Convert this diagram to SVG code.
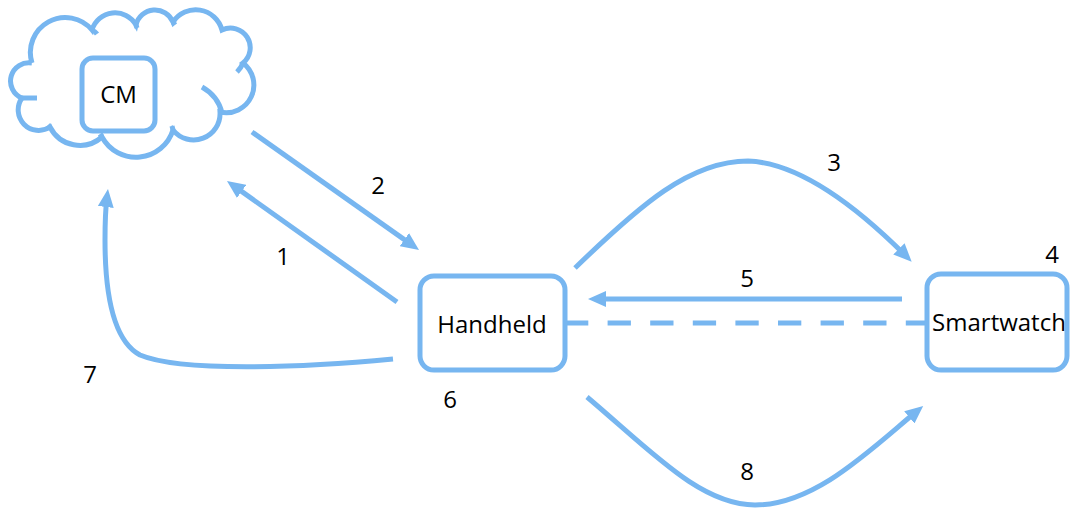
<svg xmlns="http://www.w3.org/2000/svg" width="1070" height="508" viewBox="0 0 1070 508">
  <defs>
    <marker id="arrow" viewBox="0 0 18 16" refX="10" refY="8" markerWidth="18" markerHeight="16" markerUnits="userSpaceOnUse" orient="auto">
      <path d="M0,0 L18,8 L0,16 z" fill="#77b6f0"/>
    </marker>
    <style>
      .shape { fill: #ffffff; stroke: #77b6f0; stroke-width: 5; }
      .cloud { fill: none; stroke: #77b6f0; stroke-width: 5; stroke-linecap: butt; }
      .conn { fill: none; stroke: #77b6f0; stroke-width: 5; }
      .dash { fill: none; stroke: #77b6f0; stroke-width: 5; stroke-dasharray: 23.3 19.3; }
      .lbl { font-family: "Open Sans", "DejaVu Sans", sans-serif; font-size: 24px; fill: #000000; text-anchor: middle; }
    </style>
  </defs>

  <rect width="1070" height="508" fill="#ffffff"/>

  <!-- cloud around the CM box -->
  <g id="cloud">
    <path class="cloud" fill="#ffffff" d="M32,63 A34.9,34.9 0 0 1 92,30 A24.1,24.1 0 0 1 136,25 A19.5,19.5 0 0 1 173,22 A27.2,27.2 0 0 1 222,30 A19.7,19.7 0 0 1 243,63 A27.7,27.7 0 0 1 220,112 A26.4,26.4 0 0 1 173,130 A38.7,38.7 0 0 1 102,137 A33.5,33.5 0 0 1 50,127 A20.5,20.5 0 0 1 22,98 A18.3,18.3 0 0 1 32,63"/>
    <path class="cloud" d="M92,30 Q95,31 97,34"/>
    <path class="cloud" d="M136,25 L137,28"/>
    <path class="cloud" d="M173,22 L175,25"/>
    <path class="cloud" d="M243,63 Q241,68 237,72"/>
    <path class="cloud" d="M202,87 Q218,96 222,113"/>
    <path class="cloud" d="M173,130 L172,126"/>
    <path class="cloud" d="M102,137 L100,134"/>
    <path class="cloud" d="M50,127 L48,125"/>
    <path class="cloud" d="M22,98 L37,98"/>
  </g>

  <!-- connectors -->
  <g id="connectors">
    <path class="conn" d="M252,132 L412.5,245.4" marker-end="url(#arrow)"/>
    <path class="conn" d="M397,302 L233.5,185.6" marker-end="url(#arrow)"/>
    <path class="conn" d="M575,268 C640,205 690,161 748,161 C805,163 865,215 906,256" marker-end="url(#arrow)"/>
    <path class="conn" d="M902,299 L596,299" marker-end="url(#arrow)"/>
    <path class="dash" d="M565,323 L927,323"/>
    <path class="conn" d="M393,359 C300,368 180,372 140,355 C112,340 105,290 105,240 C105,220 106,205 107,197" marker-end="url(#arrow)"/>
    <path class="conn" d="M587,397 C650,450 700,505 755,505 C815,505 870,450 917,411" marker-end="url(#arrow)"/>
  </g>

  <!-- nodes -->
  <g id="cm">
    <rect class="shape" x="82" y="58" width="73" height="73" rx="11"/>
    <text class="lbl" x="118.5" y="103">CM</text>
  </g>
  <g id="handheld">
    <rect class="shape" x="420" y="276" width="145" height="94" rx="14"/>
    <text class="lbl" x="492" y="333">Handheld</text>
  </g>
  <g id="smartwatch">
    <rect class="shape" x="927" y="274" width="140" height="96" rx="14"/>
    <text class="lbl" x="999" y="331">Smartwatch</text>
  </g>

  <!-- step numbers -->
  <g id="labels">
    <text class="lbl" x="283" y="265">1</text>
    <text class="lbl" x="378" y="194">2</text>
    <text class="lbl" x="834" y="171">3</text>
    <text class="lbl" x="1052" y="263">4</text>
    <text class="lbl" x="747" y="287">5</text>
    <text class="lbl" x="450" y="408">6</text>
    <text class="lbl" x="90" y="383">7</text>
    <text class="lbl" x="747" y="480">8</text>
  </g>
</svg>
